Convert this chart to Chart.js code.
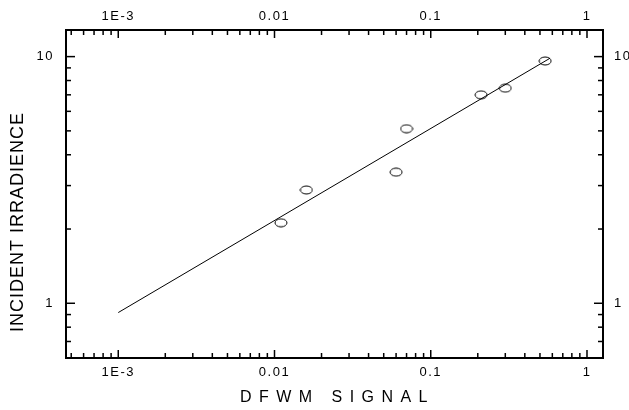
<!DOCTYPE html>
<html>
<head>
<meta charset="utf-8">
<script src="https://cdn.jsdelivr.net/npm/chart.js@4.4.1/dist/chart.umd.min.js"></script>
<style>
  html, body { margin: 0; padding: 0; background: #fff; }
  canvas { display: block; }
</style>
</head>
<body>
<canvas id="grafico" width="629" height="410"></canvas>
<script>
// measured points
const signal = [0.011, 0.016, 0.06, 0.07, 0.21, 0.30, 0.54];
const irradiance = [2.12, 2.88, 3.40, 5.10, 7.0, 7.45, 9.6];

// fitted line end points
const fitSignal = [0.001, 0.58];
const fitIrradiance = [0.917, 9.85];

// axes
const xRange = [4.63e-4, 1.266];
const yRange = [0.605, 12.82];
const xMajor = [0.001, 0.01, 0.1, 1];
const xLabels = ['1E-3', '0.01', '0.1', '1'];
const xMinor = [0.0005, 0.0006, 0.0007, 0.0008, 0.0009,
  0.002, 0.003, 0.004, 0.005, 0.006, 0.007, 0.008, 0.009,
  0.02, 0.03, 0.04, 0.05, 0.06, 0.07, 0.08, 0.09,
  0.2, 0.3, 0.4, 0.5, 0.6, 0.7, 0.8, 0.9];
const yMajor = [1, 10];
const yLabels = ['1', '10'];
const yMinor = [0.7, 0.8, 0.9, 2, 3, 4, 5, 6, 7, 8, 9];
const yTitle = 'INCIDENT IRRADIENCE';

const FONT = "'Liberation Sans', Arial, sans-serif";

// open ellipse marker
function makeMarker() {
    const c = document.createElement('canvas');
    c.width = 14; c.height = 10;
    const g = c.getContext('2d');
    g.strokeStyle = '#000';
    g.lineWidth = 1;
    g.beginPath();
    g.ellipse(7, 5, 6, 4, 0, 0, Math.PI * 2);
    g.stroke();
    return c;
}

const tickMarks = {
    id: 'tickMarks',
    beforeDraw(chart) {
        chart.ctx.letterSpacing = '1.5px';
    },
    afterDraw(chart) {
        const { ctx, chartArea: a, scales } = chart;
        ctx.save();
        ctx.strokeStyle = '#000';
        ctx.lineWidth = 1.5;
        const mark = (x1, y1, x2, y2) => { ctx.beginPath(); ctx.moveTo(x1, y1); ctx.lineTo(x2, y2); ctx.stroke(); };
        xMajor.concat(xMinor).forEach(v => {
            const len = xMajor.includes(v) ? 8 : 5;
            const px = scales.x.getPixelForValue(v);
            mark(px, a.bottom, px, a.bottom - len);
            mark(px, a.top, px, a.top + len);
        });
        yMajor.concat(yMinor).forEach(v => {
            const len = yMajor.includes(v) ? 9 : 5;
            const py = scales.y.getPixelForValue(v);
            mark(a.left, py, a.left + len, py);
            mark(a.right, py, a.right - len, py);
        });

        // y title, set a bit below the middle as in the original
        ctx.letterSpacing = '1px';
        ctx.fillStyle = '#000';
        ctx.font = '18px ' + FONT;
        ctx.textAlign = 'center';
        ctx.textBaseline = 'middle';
        ctx.translate(18, 222);
        ctx.rotate(-Math.PI / 2);
        ctx.fillText(yTitle, 0, 0);
        ctx.restore();
    }
};

function logAxis(position, range, major, labels, size, extra) {
    return Object.assign({
        type: 'logarithmic',
        position,
        min: range[0],
        max: range[1],
        afterBuildTicks: s => { s.ticks = major.map(v => ({ value: v })); },
        afterFit: s => {
            if (position === 'left' || position === 'right') s.width = size;
            else s.height = size;
        },
        grid: { drawOnChartArea: false, drawTicks: false },
        border: { display: true, color: '#000', width: 2 }
    }, extra || {});
}

function tickOpts(major, labels, padding) {
    return {
        autoSkip: false, maxRotation: 0, color: '#000', padding,
        font: { family: FONT, size: 13 },
        callback: v => labels[major.indexOf(v)] ?? ''
    };
}

new Chart(document.getElementById('grafico'), {
    type: 'scatter',
    data: {
        datasets: [
            {
                label: 'fit',
                data: fitSignal.map((x, i) => ({ x, y: fitIrradiance[i] })),
                showLine: true,
                borderColor: '#000',
                borderWidth: 1,
                pointRadius: 0,
                xAxisID: 'x',
                yAxisID: 'y'
            },
            {
                label: 'data',
                data: signal.map((x, i) => ({ x, y: irradiance[i] })),
                pointStyle: makeMarker(),
                pointRadius: 6,
                xAxisID: 'x',
                yAxisID: 'y'
            }
        ]
    },
    options: {
        responsive: false,
        animation: false,
        layout: { padding: 0 },
        plugins: { legend: { display: false }, tooltip: { enabled: false } },
        scales: {
            x: logAxis('bottom', xRange, xMajor, xLabels, 52, {
                ticks: tickOpts(xMajor, xLabels, 7),
                title: {
                    display: true, text: 'D F W M   S I G N A L', color: '#000',
                    font: { family: FONT, size: 16 }, padding: { top: 0, bottom: 3 }
                }
            }),
            x2: logAxis('top', xRange, xMajor, xLabels, 30, {
                ticks: tickOpts(xMajor, xLabels, 6)
            }),
            y: logAxis('left', yRange, yMajor, yLabels, 66, {
                ticks: tickOpts(yMajor, yLabels, 12)
            }),
            y2: logAxis('right', yRange, yMajor, yLabels, 26, {
                ticks: tickOpts(yMajor, yLabels, 11)
            })
        }
    },
    plugins: [tickMarks]
});
</script>
</body>
</html>
